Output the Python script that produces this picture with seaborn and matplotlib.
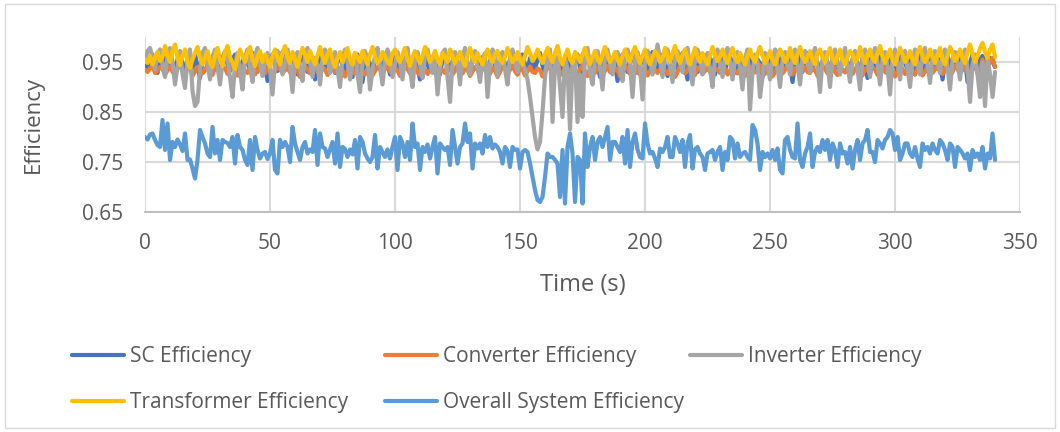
import numpy as np
import pandas as pd
import matplotlib
matplotlib.use("Agg")
import matplotlib.pyplot as plt
from matplotlib.lines import Line2D
from matplotlib.patches import Rectangle
import seaborn as sns

# Efficiency samples (thousandths), one per second from t = 0 to 340 s
sc_eff = [
    945, 935, 958, 965, 940, 928, 955, 968, 950, 935,
    962, 948, 930, 955, 970, 945, 925, 960, 952, 938,
    965, 942, 918, 950, 968, 955, 935, 948, 962, 940,
    928, 958, 970, 945, 932, 955, 965, 940, 922, 950,
    962, 948, 935, 968, 955, 930, 945, 960, 940, 912,
    950, 965, 942, 932, 958, 970, 948, 935, 952, 965,
    940, 925, 955, 968, 945, 930, 960, 950, 915, 945,
    962, 955, 935, 948, 968, 942, 928, 955, 965, 940,
    932, 958, 945, 920, 950, 965, 940, 910, 948, 960,
    945, 930, 955, 968, 942, 935, 958, 948, 925, 952,
    965, 940, 932, 955, 970, 948, 928, 945, 960, 938,
    915, 950, 965, 945, 932, 958, 968, 940, 925, 955,
    962, 948, 935, 952, 968, 940, 920, 950, 962, 945,
    930, 955, 970, 948, 935, 960, 945, 922, 952, 965,
    942, 930, 958, 968, 945, 935, 955, 962, 940, 925,
    950, 965, 945, 932, 958, 948, 935, 955, 968, 942,
    928, 952, 965, 945, 935, 960, 948, 930, 955, 970,
    945, 932, 958, 965, 940, 925, 952, 968, 948, 935,
    960, 945, 920, 955, 968, 942, 935, 958, 948, 912,
    950, 965, 940, 930, 955, 968, 945, 928, 952, 962,
    940, 932, 958, 970, 948, 935, 955, 965, 942, 922,
    950, 962, 945, 935, 958, 968, 940, 915, 948, 960,
    945, 930, 955, 965, 942, 935, 958, 948, 925, 952,
    968, 945, 932, 955, 962, 940, 928, 950, 965, 945,
    935, 958, 968, 942, 930, 955, 948, 920, 952, 965,
    940, 932, 958, 970, 945, 935, 955, 962, 940, 910,
    948, 965, 945, 930, 958, 968, 942, 935, 955, 948,
    925, 952, 968, 945, 932, 958, 962, 940, 928, 955,
    970, 948, 935, 955, 965, 942, 930, 958, 948, 918,
    950, 965, 945, 935, 958, 968, 940, 928, 952, 962,
    945, 932, 955, 970, 948, 935, 958, 945, 925, 952,
    965, 942, 930, 955, 968, 945, 935, 958, 948, 915,
    950, 962, 945, 932, 958, 968, 942, 935, 955, 910,
    948, 965, 940, 930, 955, 962, 945, 935, 958, 950, 940,
]

converter_eff = [
    935, 930, 938, 942, 928, 932, 940, 936, 925, 933,
    941, 930, 926, 937, 944, 932, 928, 939, 935, 922,
    931, 940, 936, 927, 933, 945, 930, 924, 938, 934,
    929, 942, 937, 926, 935, 940, 931, 923, 936, 943,
    932, 928, 939, 935, 925, 933, 946, 930, 927, 938,
    934, 922, 931, 941, 936, 928, 933, 944, 929, 925,
    937, 933, 920, 930, 942, 935, 927, 934, 945, 931,
    926, 939, 935, 924, 932, 941, 930, 928, 938, 934,
    921, 931, 943, 936, 927, 933, 946, 930, 925, 937,
    935, 923, 932, 940, 934, 928, 935, 944, 931, 926,
    938, 933, 922, 930, 942, 936, 927, 934, 945, 929,
    924, 939, 935, 926, 932, 941, 930, 921, 937, 934,
    928, 943, 936, 925, 933, 946, 931, 927, 938, 935,
    922, 931, 940, 934, 929, 935, 944, 930, 926, 939,
    933, 920, 930, 942, 936, 927, 934, 945, 931, 925,
    938, 935, 923, 932, 941, 930, 928, 937, 934, 921,
    931, 943, 936, 927, 933, 946, 930, 924, 938, 935,
    929, 940, 934, 926, 935, 944, 931, 922, 937, 933,
    928, 939, 935, 924, 932, 942, 930, 927, 938, 934,
    921, 931, 943, 936, 926, 933, 945, 930, 925, 937,
    935, 923, 932, 941, 934, 928, 935, 944, 931, 926,
    938, 933, 920, 930, 942, 936, 927, 934, 946, 929,
    924, 939, 935, 926, 932, 941, 930, 922, 937, 934,
    928, 943, 936, 925, 933, 945, 931, 927, 938, 935,
    922, 931, 940, 934, 929, 935, 944, 930, 926, 939,
    933, 921, 930, 942, 936, 927, 934, 945, 931, 925,
    938, 935, 923, 932, 941, 930, 928, 937, 934, 922,
    931, 943, 936, 927, 933, 946, 930, 924, 938, 935,
    929, 940, 934, 926, 935, 944, 931, 923, 937, 933,
    928, 939, 935, 924, 932, 942, 930, 927, 938, 934,
    921, 931, 943, 936, 926, 933, 945, 930, 925, 937,
    935, 923, 932, 941, 934, 928, 935, 944, 931, 926,
    938, 933, 922, 930, 942, 936, 927, 934, 946, 929,
    924, 939, 948, 926, 932, 955, 930, 945, 950, 958, 940,
]

inverter_eff = [
    950, 972, 978, 960, 935, 968, 975, 945, 920, 962,
    978, 950, 905, 940, 972, 925, 898, 955, 975, 892,
    862, 870, 935, 968, 978, 945, 915, 960, 975, 940,
    905, 950, 972, 960, 918, 880, 945, 968, 930, 895,
    958, 975, 940, 910, 962, 978, 948, 922, 955, 968,
    935, 885, 950, 972, 960, 925, 948, 975, 942, 890,
    955, 970, 938, 912, 962, 978, 950, 920, 958, 945,
    905, 955, 975, 960, 928, 948, 970, 935, 900, 958,
    975, 950, 915, 945, 968, 925, 890, 948, 972, 955,
    895, 935, 962, 978, 940, 905, 955, 975, 958, 920,
    945, 970, 950, 915, 960, 978, 935, 900, 955, 970,
    945, 918, 962, 975, 950, 928, 958, 885, 940, 968,
    975, 920, 870, 948, 970, 955, 905, 960, 978, 945,
    925, 958, 972, 940, 910, 955, 968, 880, 945, 975,
    958, 922, 950, 970, 935, 905, 958, 975, 948, 930,
    962, 950, 935, 915, 880, 840, 800, 775, 790, 850,
    920, 965, 975, 830, 945, 960, 900, 840, 958, 935,
    815, 950, 960, 830, 925, 840, 970, 978, 930, 905,
    955, 972, 940, 895, 960, 975, 948, 925, 958, 970,
    935, 912, 960, 975, 945, 880, 955, 970, 938, 875,
    950, 972, 960, 925, 948, 985, 955, 920, 962, 975,
    945, 910, 958, 972, 950, 930, 962, 978, 940, 905,
    955, 975, 960, 925, 950, 968, 935, 900, 958, 975,
    948, 920, 962, 978, 950, 915, 955, 970, 940, 895,
    958, 975, 855, 930, 965, 950, 880, 920, 968, 945,
    915, 958, 975, 940, 900, 955, 970, 948, 925, 960,
    975, 945, 905, 958, 972, 950, 930, 962, 978, 940,
    890, 955, 970, 945, 900, 962, 975, 950, 925, 958,
    978, 945, 910, 955, 972, 935, 895, 958, 975, 950,
    920, 962, 978, 948, 905, 955, 970, 940, 885, 958,
    975, 950, 915, 960, 972, 938, 900, 955, 975, 948,
    925, 962, 978, 945, 908, 958, 972, 950, 928, 965,
    975, 940, 895, 955, 970, 948, 915, 960, 975, 935,
    870, 945, 965, 925, 880, 950, 862, 958, 925, 880, 930,
]

transformer_eff = [
    955, 948, 962, 945, 958, 970, 952, 960, 982, 965,
    950, 972, 985, 958, 944, 962, 975, 950, 938, 955,
    968, 980, 960, 945, 958, 972, 948, 940, 962, 978,
    955, 942, 968, 982, 960, 948, 935, 958, 975, 962,
    950, 968, 980, 955, 942, 960, 972, 950, 965, 952,
    940, 962, 975, 958, 945, 968, 982, 960, 948, 970,
    955, 940, 962, 978, 965, 950, 972, 958, 945, 962,
    980, 960, 948, 965, 975, 952, 940, 958, 970, 950,
    962, 978, 955, 945, 968, 960, 950, 972, 958, 945,
    965, 980, 960, 948, 955, 970, 962, 950, 945, 968,
    975, 958, 950, 965, 978, 955, 942, 960, 972, 958,
    948, 962, 980, 965, 950, 958, 972, 955, 945, 968,
    960, 950, 975, 962, 948, 958, 970, 955, 942, 965,
    978, 960, 950, 968, 955, 945, 962, 975, 958, 950,
    965, 972, 955, 948, 960, 978, 962, 950, 958, 970,
    955, 945, 962, 980, 968, 952, 960, 975, 958, 948,
    965, 978, 960, 950, 968, 982, 958, 945, 962, 975,
    955, 948, 970, 962, 950, 965, 978, 958, 945, 960,
    972, 955, 948, 965, 980, 962, 950, 958, 970, 955,
    945, 962, 975, 958, 950, 968, 980, 960, 948, 962,
    975, 955, 945, 960, 972, 965, 950, 958, 978, 962,
    950, 968, 982, 960, 948, 965, 975, 958, 945, 962,
    978, 960, 950, 968, 955, 945, 962, 980, 965, 952,
    960, 975, 958, 948, 965, 978, 960, 950, 968, 955,
    945, 962, 975, 958, 950, 968, 980, 962, 948, 958,
    972, 955, 945, 960, 975, 965, 950, 958, 978, 960,
    948, 965, 980, 962, 950, 958, 972, 955, 945, 968,
    975, 960, 950, 965, 978, 958, 948, 962, 975, 955,
    945, 960, 972, 965, 950, 958, 980, 962, 948, 965,
    975, 958, 950, 968, 982, 960, 948, 962, 975, 955,
    945, 962, 978, 965, 950, 958, 972, 955, 945, 968,
    980, 962, 950, 958, 975, 960, 948, 965, 978, 955,
    945, 962, 980, 968, 952, 960, 975, 958, 948, 970,
    985, 965, 950, 962, 978, 988, 970, 958, 975, 985, 960,
]

overall_eff = [
    800, 795, 805, 807, 794, 784, 780, 834, 774, 827,
    754, 790, 780, 795, 785, 772, 807, 754, 755, 737,
    717, 754, 814, 800, 787, 767, 760, 820, 767, 794,
    754, 794, 790, 788, 780, 800, 747, 804, 780, 774,
    754, 744, 794, 734, 800, 774, 757, 767, 770, 756,
    767, 794, 734, 727, 794, 780, 790, 780, 750, 820,
    787, 770, 754, 780, 790, 767, 775, 770, 814, 744,
    807, 780, 777, 760, 775, 790, 747, 807, 740, 780,
    776, 760, 775, 765, 794, 737, 800, 790, 767, 757,
    750, 760, 804, 737, 780, 770, 760, 775, 757, 780,
    800, 734, 800, 787, 760, 790, 754, 827, 780, 787,
    734, 780, 770, 785, 757, 780, 800, 727, 787, 780,
    774, 780, 744, 814, 780, 747, 780, 787, 827, 790,
    807, 737, 787, 777, 787, 767, 804, 780, 800, 777,
    785, 780, 770, 747, 780, 772, 740, 780, 774, 775,
    737, 770, 774, 770, 747, 720, 694, 674, 670, 680,
    720, 767, 760, 760, 754, 747, 680, 774, 667, 780,
    807, 767, 670, 760, 754, 667, 807, 740, 780, 800,
    754, 790, 800, 780, 800, 820, 754, 790, 790, 780,
    770, 800, 747, 814, 740, 790, 807, 775, 760, 757,
    827, 787, 767, 770, 757, 740, 777, 770, 780, 800,
    760, 760, 800, 787, 770, 794, 740, 787, 804, 737,
    775, 780, 767, 760, 734, 767, 770, 774, 754, 770,
    780, 734, 770, 754, 800, 794, 757, 787, 760, 767,
    770, 760, 754, 824, 814, 787, 734, 770, 760, 767,
    757, 774, 754, 777, 734, 727, 794, 800, 774, 760,
    757, 827, 754, 740, 767, 780, 807, 740, 770, 780,
    770, 794, 774, 794, 754, 787, 774, 740, 787, 767,
    770, 747, 780, 737, 774, 794, 754, 787, 794, 814,
    770, 770, 750, 794, 787, 777, 794, 800, 814, 807,
    774, 800, 754, 767, 787, 787, 767, 760, 780, 757,
    740, 787, 774, 780, 767, 787, 774, 767, 794, 787,
    774, 754, 787, 780, 740, 780, 774, 767, 757, 767,
    734, 774, 760, 767, 754, 780, 737, 767, 757, 807, 754,
]

series_names = [
    "SC Efficiency",
    "Converter Efficiency",
    "Inverter Efficiency",
    "Transformer Efficiency",
    "Overall System Efficiency",
]
series_values = [sc_eff, converter_eff, inverter_eff, transformer_eff, overall_eff]
series_colors = ["#4472C4", "#ED7D31", "#A5A5A5", "#FFC000", "#5B9BD5"]

x_ticks = [0, 50, 100, 150, 200, 250, 300, 350]
y_ticks = [0.65, 0.75, 0.85, 0.95]

frames = []
for name, vals in zip(series_names, series_values):
    frames.append(pd.DataFrame({
        "Time (s)": np.arange(len(vals)),
        "Efficiency": np.asarray(vals) / 1000.0,
        "Series": name,
    }))
df = pd.concat(frames, ignore_index=True)

sns.set_style("white")
plt.rcParams["font.family"] = ["Open Sans", "DejaVu Sans"]

text_color = "#595959"
grid_color = "#D9D9D9"

fig = plt.figure(figsize=(10.6, 4.32), dpi=100)
ax = fig.add_axes([0.1368, 0.5093, 0.9623 - 0.1368, 0.9144 - 0.5093])

sns.lineplot(
    data=df, x="Time (s)", y="Efficiency", hue="Series",
    hue_order=series_names, palette=series_colors,
    linewidth=3.0, legend=False, ax=ax, estimator=None, sort=False,
)

ax.set_xlim(0, 350)
ax.set_ylim(0.65, 1.0)
ax.set_xticks(x_ticks)
ax.set_yticks(y_ticks)
ax.set_xticklabels([str(v) for v in x_ticks])
ax.set_yticklabels([f"{v:.2f}" for v in y_ticks])
ax.grid(True, color=grid_color, linewidth=1.5)
ax.set_axisbelow(True)
for side in ["top", "right", "left"]:
    ax.spines[side].set_visible(False)
ax.spines["bottom"].set_color("#BFBFBF")
ax.spines["bottom"].set_linewidth(1.5)
ax.tick_params(axis="both", length=0, labelsize=15, labelcolor=text_color)
ax.tick_params(axis="x", pad=15)
ax.tick_params(axis="y", pad=16)
ax.set_xlabel("Time (s)", fontsize=17, color=text_color, labelpad=14)
ax.set_ylabel("Efficiency", fontsize=16, color=text_color, labelpad=27)

# Legend: three columns placed at fixed offsets, two rows
legend_columns = [(0.068, [0, 3]), (0.363, [1, 4]), (0.651, [2])]
for x0, idxs in legend_columns:
    handles = [Line2D([], [], color=series_colors[i], linewidth=3.0) for i in idxs]
    labels = [series_names[i] for i in idxs]
    fig.legend(
        handles, labels, ncol=1, loc="upper left",
        bbox_to_anchor=(x0, 0.199), bbox_transform=fig.transFigure,
        frameon=False, fontsize=15, labelcolor=text_color,
        handlelength=2.5, handletextpad=0.3,
        labelspacing=1.2, borderaxespad=0, borderpad=0,
    )

# Thin chart-area border
fig.patches.append(Rectangle(
    (0.005, 0.01), 0.99, 0.98, transform=fig.transFigure,
    fill=False, edgecolor="#D9D9D9", linewidth=1.0,
))

fig.savefig("out.png", dpi=100)
